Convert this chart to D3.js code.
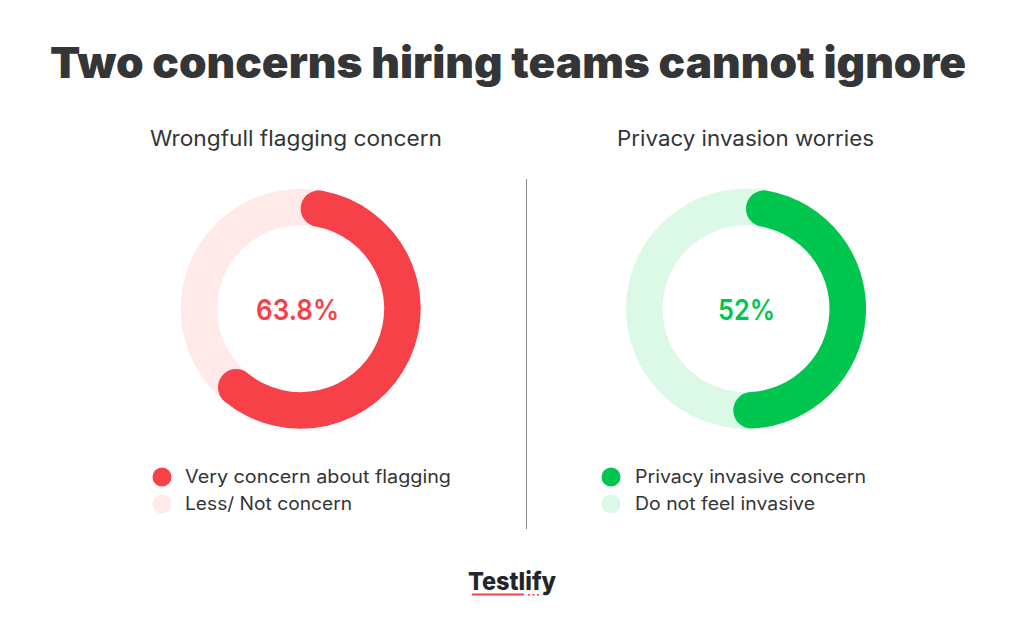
<!DOCTYPE html>
<html><head><meta charset="utf-8">
<script src="https://cdn.jsdelivr.net/npm/d3@7"></script>
<style>html,body{margin:0;padding:0;background:#fff}svg{display:block}text{font-family:Inter,"Noto Sans",sans-serif}</style>
</head><body><div id="c"></div>
<script>
const titleText = "Two concerns hiring teams cannot ignore";
const chartTitles = ["Wrongfull flagging concern", "Privacy invasion worries"];
const centerLabels = ["63.8%", "52%"];
const percentValues = [63.8, 52];
const mainColors = ["#f54147", "#00c64f"];
const lightColors = ["#ffe9e9", "#dcf9e8"];
const legendMain = ["Very concern about flagging", "Privacy invasive concern"];
const legendRest = ["Less/ Not concern", "Do not feel invasive"];
const ink = "#333536";

const svg = d3.select("#c").append("svg").attr("width",1024).attr("height",635);
const fit = (sel,len)=>sel.attr("textLength",len).attr("lengthAdjust","spacingAndGlyphs");

fit(svg.append("text").attr("x",50).attr("y",78).attr("font-size",43).attr("font-weight",900).attr("fill",ink).text(titleText),916);

const layout = [
 {cx:300.7, cy:308.7, titleX:150, titleW:292, dotX:162, textX:185, w1:266, w2:167, centerX:-3.2, centerW:83},
 {cx:746, cy:308.7, titleX:617, titleW:257, dotX:611, textX:635, w1:231, w2:180, centerX:0.5, centerW:57}
];
const scale = d3.scaleLinear().domain([0,100]).range([0,2*Math.PI]);
const arc = d3.arc().innerRadius(83.5).outerRadius(120);

percentValues.forEach((v,i)=>{
  const L = layout[i];
  fit(svg.append("text").attr("x",L.titleX).attr("y",146).attr("font-size",21).attr("font-weight",400).attr("fill",ink).text(chartTitles[i]),L.titleW);
  const g = svg.append("g").attr("transform",`translate(${L.cx},${L.cy})`);
  g.append("path").attr("d",arc({startAngle:0,endAngle:2*Math.PI})).attr("fill",lightColors[i]);
  g.append("path").attr("d",arc.cornerRadius(18.2)({startAngle:scale(0),endAngle:scale(v)})).attr("fill",mainColors[i]);
  arc.cornerRadius(0);
  fit(g.append("text").attr("x",L.centerX-L.centerW/2).attr("y",10.8).attr("font-size",29).attr("font-weight",600).attr("fill",mainColors[i]).text(centerLabels[i]),L.centerW);
  svg.append("circle").attr("cx",L.dotX).attr("cy",477).attr("r",9.5).attr("fill",mainColors[i]);
  svg.append("circle").attr("cx",L.dotX).attr("cy",504).attr("r",9.5).attr("fill",lightColors[i]);
  fit(svg.append("text").attr("x",L.textX).attr("y",483).attr("font-size",18).attr("fill",ink).text(legendMain[i]),L.w1);
  fit(svg.append("text").attr("x",L.textX).attr("y",510).attr("font-size",18).attr("fill",ink).text(legendRest[i]),L.w2);
});

svg.append("line").attr("x1",526.5).attr("x2",526.5).attr("y1",179).attr("y2",529).attr("stroke","#8a8a8a").attr("stroke-width",1);

fit(svg.append("text").attr("x",468).attr("y",590).attr("font-size",25).attr("font-weight",800).attr("fill","#22262b").text("Testlify"),88);
svg.append("rect").attr("x",472).attr("y",593.5).attr("width",52).attr("height",2).attr("fill","#f64348");
[528,532.5,537].forEach(x=>svg.append("rect").attr("x",x).attr("y",594).attr("width",2).attr("height",1.5).attr("fill","#f64348"));
</script></body></html>
